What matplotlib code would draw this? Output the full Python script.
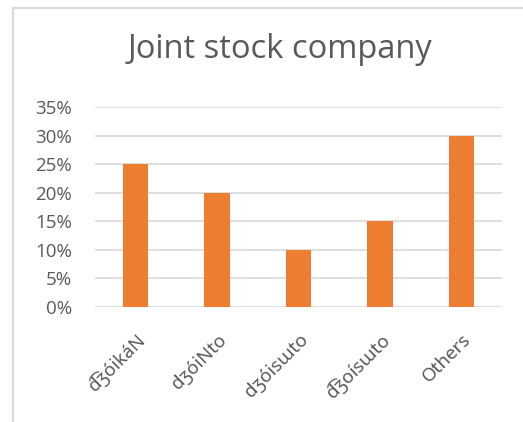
import matplotlib
matplotlib.use("Agg")
import matplotlib.pyplot as plt
from matplotlib.patches import Rectangle
from matplotlib.ticker import PercentFormatter
from matplotlib.transforms import ScaledTranslation

categories = ["d\u0361ʒóikáN", "dʒóiNto", "dʒóisɯto", "d\u0361ʒoísɯto", "Others"]
values = [0.25, 0.20, 0.10, 0.15, 0.30]
yticks = [0, 0.05, 0.10, 0.15, 0.20, 0.25, 0.30, 0.35]
title = "Joint stock company"

plt.rcParams['font.family'] = ['Open Sans', 'Noto Sans', 'DejaVu Sans']
W, H = 523, 422
fig = plt.figure(figsize=(W/100, H/100), dpi=100)
fig.patch.set_facecolor("white")

# chart border (top and left visible)
fig.patches.append(Rectangle((13/W, -0.1), 1.2, (H-8)/H + 0.1, transform=fig.transFigure,
                             fill=False, edgecolor="#d9d9d9", linewidth=1.5))

ax = fig.add_axes([95/W, 1-307/H, (502-95)/W, (307-107)/H])
x = range(len(categories))
ax.bar(x, values, width=0.31, color="#ED7D31", zorder=3)
ax.set_ylim(0, 0.35)
ax.set_xlim(-0.5, len(categories)-0.5)
ax.set_yticks(yticks)
ax.yaxis.set_major_formatter(PercentFormatter(1.0, decimals=0))
ax.grid(axis="y", color="#d9d9d9", linewidth=1.2, zorder=0)
for s in ax.spines.values():
    s.set_visible(False)
ax.tick_params(axis="both", length=0, colors="#595959", labelsize=13.5)
ax.tick_params(axis="y", pad=16.5)
ax.set_xticks(list(x))
ax.set_xticklabels(categories, rotation=45, ha="right", va="center", rotation_mode="anchor",
                   family=['Noto Sans', 'DejaVu Sans'])
ax.tick_params(axis="x", pad=0)
off = ScaledTranslation(7/100, -30/100, fig.dpi_scale_trans)
for lab in ax.get_xticklabels():
    lab.set_transform(lab.get_transform() + off)

fig.text(280/W, 1-50/H, title, ha="center", va="center", fontsize=23.5, color="#595959")

fig.savefig("out.png", dpi=100)
